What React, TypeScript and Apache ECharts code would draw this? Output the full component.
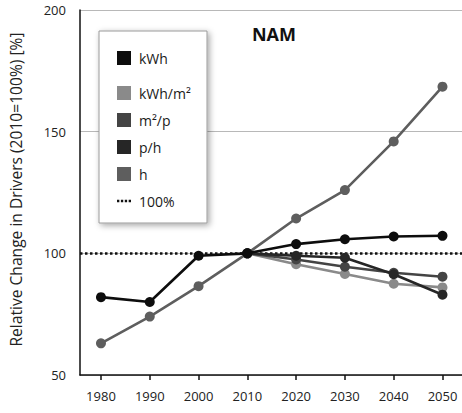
import React, { useEffect, useRef } from "react";
import * as echarts from "echarts";

// Relative change of the drivers of residential electricity use, North America
const years = [1980, 1990, 2000, 2010, 2020, 2030, 2040, 2050];
const kWh = [82, 80, 99, 100, 103.8, 105.8, 106.9, 107.2];
const kWhPerM2 = [null, null, null, 100, 95.5, 91.5, 87.5, 86];
const m2PerP = [null, null, null, 100, 97.5, 94.5, 92, 90.4];
const pPerH = [null, null, null, 100, 99, 98.2, 91.4, 83];
const h = [63, 74, 86.5, 100, 114.3, 126, 146, 168.5];
const baseline = 100;
const yTicks = [50, 100, 150, 200];

const FONT = "Open Sans";

const pairs = (vals: (number | null)[]) => years.map((y, i) => [y, vals[i]]);

const dotsIcon =
  "path://M0 0h3v3H0zM5 0h3v3H5zM10 0h3v3h-3zM15 0h3v3h-3z";

export default function App() {
  const ref = useRef<HTMLDivElement>(null);

  useEffect(() => {
    if (!ref.current) return;
    const chart = echarts.init(ref.current, null, { renderer: "svg" });

    const lineSeries = (name: string, vals: (number | null)[], color: string, z: number) => ({
      name,
      type: "line",
      data: pairs(vals),
      z,
      symbol: "circle",
      symbolSize: 10,
      showSymbol: true,
      lineStyle: { color, width: 2.6 },
      itemStyle: { color, borderWidth: 0 },
      emphasis: { disabled: true },
    });

    const legendText = {
      fontFamily: FONT,
      fontSize: 14,
      color: "#1a1a1a",
      lineHeight: 14,
      padding: [0, 0, 0, 3],
    };

    chart.setOption({
      animation: false,
      backgroundColor: "#ffffff",
      textStyle: { fontFamily: FONT },
      title: {
        text: "NAM",
        left: 274,
        top: 25,
        padding: 0,
        textAlign: "center",
        textStyle: { fontFamily: FONT, fontSize: 18, fontWeight: "bold", color: "#111" },
      },
      graphic: [
        {
          type: "rect",
          z: 5,
          shape: { x: 99, y: 31, width: 108, height: 192 },
          style: {
            fill: "#ffffff",
            stroke: "#9a9a9a",
            lineWidth: 1,
            shadowBlur: 6,
            shadowOffsetX: 2,
            shadowOffsetY: 2,
            shadowColor: "rgba(0,0,0,0.35)",
          },
        },
      ],
      legend: [
        {
          z: 10,
          left: 117,
          top: 51,
          padding: 0,
          orient: "vertical",
          itemWidth: 14,
          itemHeight: 14,
          itemGap: 13,
          selectedMode: false,
          textStyle: legendText,
          data: [{ name: "kWh", icon: "rect" }],
        },
        {
          z: 10,
          left: 117,
          top: 86,
          padding: 0,
          orient: "vertical",
          itemWidth: 14,
          itemHeight: 14,
          itemGap: 13,
          selectedMode: false,
          textStyle: legendText,
          data: [
            { name: "kWh/m²", icon: "rect" },
            { name: "m²/p", icon: "rect" },
            { name: "p/h", icon: "rect" },
            { name: "h", icon: "rect" },
            { name: "100%", icon: dotsIcon },
          ],
        },
      ],
      grid: { left: 79, right: 0, top: 10, bottom: 38, containLabel: false },
      xAxis: {
        type: "value",
        min: 1975.7,
        max: 2054,
        axisLine: { show: true, lineStyle: { color: "#111", width: 1.5 } },
        axisTick: {
          show: true,
          customValues: years,
          length: 5,
          lineStyle: { color: "#111", width: 1.5 },
        },
        axisLabel: {
          customValues: years,
          formatter: (v: number) => String(v),
          margin: 14,
          fontFamily: FONT,
          fontSize: 13,
          color: "#222",
        },
        splitLine: { show: false },
      },
      yAxis: {
        type: "value",
        min: 50,
        max: 200,
        interval: 50,
        name: "Relative Change in Drivers (2010=100%) [%]",
        nameLocation: "middle",
        nameGap: 56,
        nameTextStyle: {
          fontFamily: FONT,
          fontSize: 15.6,
          color: "#222",
          padding: [0, 0, 0, 6],
        },
        axisLine: { show: true, lineStyle: { color: "#111", width: 1.5 } },
        axisTick: { show: false },
        axisLabel: {
          customValues: yTicks,
          margin: 14,
          fontFamily: FONT,
          fontSize: 13,
          color: "#222",
        },
        splitLine: { show: true, lineStyle: { color: "#b8b8b8", width: 1 } },
      },
      series: [
        {
          name: "100%",
          type: "line",
          data: [],
          itemStyle: { color: "#111" },
          lineStyle: { color: "#111" },
          markLine: {
            silent: true,
            symbol: "none",
            label: { show: false },
            lineStyle: { color: "#111", width: 2.5, type: "dotted" },
            data: [{ yAxis: baseline }],
          },
        },
        lineSeries("h", h, "#5e5e5e", 2),
        lineSeries("kWh/m²", kWhPerM2, "#8a8a8a", 3),
        lineSeries("m²/p", m2PerP, "#444444", 4),
        lineSeries("p/h", pPerH, "#262626", 5),
        lineSeries("kWh", kWh, "#0d0d0d", 6),
      ],
    });

    return () => chart.dispose();
  }, []);

  return (
    <div
      ref={ref}
      style={{ position: "fixed", left: 0, top: 0, width: 462, height: 413 }}
    />
  );
}
